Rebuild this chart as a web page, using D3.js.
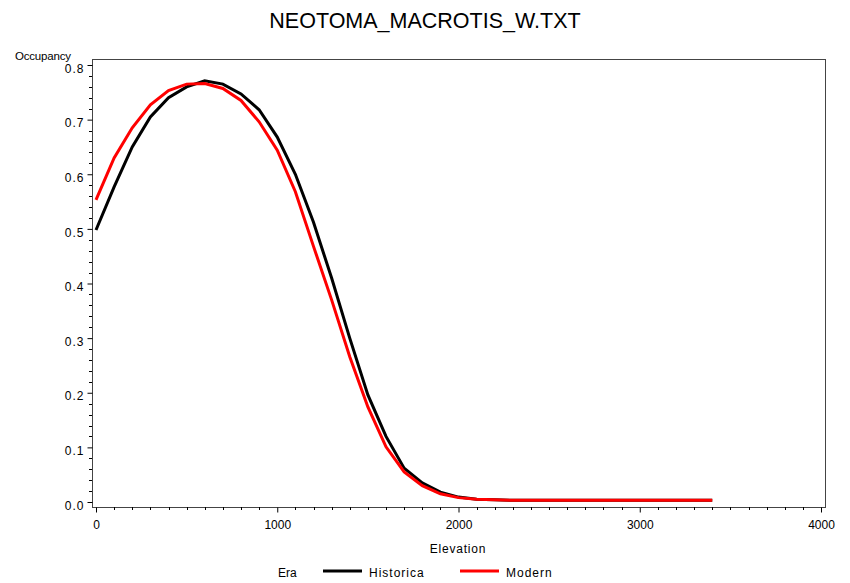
<!DOCTYPE html>
<html><head><meta charset="utf-8">
<script src="https://cdn.jsdelivr.net/npm/d3@7/dist/d3.min.js"></script>
<style>body{margin:0;background:#fff}svg{display:block}text{font-family:"Liberation Sans",Arial,sans-serif}</style>
</head><body><svg id="c" width="850" height="583"></svg>
<script>
const elevation = [0,100,200,300,400,500,600,700,800,900,1000,1100,1200,1300,1400,1500,1600,1700,1800,1900,2000,2100,2200,2300,2400,2500,2600,2700,2800,2900,3000,3100,3200,3300,3400];
const historical = [0.498,0.577,0.650,0.705,0.740,0.760,0.771,0.765,0.747,0.718,0.668,0.600,0.512,0.410,0.300,0.196,0.120,0.062,0.035,0.018,0.009,0.005,0.004,0.003,0.003,0.003,0.003,0.003,0.003,0.003,0.003,0.003,0.003,0.003,0.003];
const modern = [0.553,0.630,0.685,0.727,0.753,0.765,0.766,0.757,0.735,0.696,0.644,0.568,0.468,0.370,0.266,0.174,0.101,0.055,0.030,0.015,0.008,0.005,0.004,0.003,0.003,0.003,0.003,0.003,0.003,0.003,0.003,0.003,0.003,0.003,0.003];
const yTicks = [0.0,0.1,0.2,0.3,0.4,0.5,0.6,0.7,0.8];
const xTicks = [0,1000,2000,3000,4000];
const seriesNames = ["Historica","Modern"];
const seriesColors = ["#000000","#ff0000"];

const svg = d3.select("#c");
const frame = {l:92, r:825, t:59, b:507};
const x = d3.scaleLinear().domain([0,4000]).range([96,821]);
const y = d3.scaleLinear().domain([0,0.8]).range([502,65]);

// frame
svg.append("rect").attr("x",frame.l+0.5).attr("y",frame.t+0.5)
  .attr("width",frame.r-frame.l).attr("height",frame.b-frame.t)
  .attr("fill","none").attr("stroke","#444").attr("stroke-width",1);

// y axis
const yAxis = d3.axisLeft(y).tickValues(yTicks).tickFormat(d3.format(".1f")).tickSize(5).tickPadding(3);
const gy = svg.append("g").attr("transform",`translate(${frame.l+0.5},0)`).call(yAxis);
gy.select(".domain").remove();
gy.selectAll("text").attr("font-size",12).attr("fill","#000").attr("dy","0.6em").attr("letter-spacing","1");
const yMinor = d3.range(0,0.8001,0.02).filter(v=>Math.abs(v*10-Math.round(v*10))>1e-6);
svg.append("g").selectAll("line").data(yMinor).join("line")
  .attr("x1",frame.l-3).attr("x2",frame.l).attr("y1",d=>Math.round(y(d))+0.5).attr("y2",d=>Math.round(y(d))+0.5)
  .attr("stroke","#000");

// x axis
const xAxis = d3.axisBottom(x).tickValues(xTicks).tickFormat(d3.format("d")).tickSize(5).tickPadding(8);
const gx = svg.append("g").attr("transform",`translate(0,${frame.b+0.5})`).call(xAxis);
gx.select(".domain").remove();
gx.selectAll("text").attr("font-size",12).attr("fill","#000");
const xMinor = d3.range(0,4001,100).filter(v=>v%1000!==0);
svg.append("g").selectAll("line").data(xMinor).join("line")
  .attr("y1",frame.b).attr("y2",frame.b+3).attr("x1",d=>Math.round(x(d))+0.5).attr("x2",d=>Math.round(x(d))+0.5)
  .attr("stroke","#000");

// lines
const line = d3.line().x((d,i)=>x(elevation[i])).y(d=>y(d));
[historical, modern].forEach((s,i)=>{
  svg.append("path").datum(s).attr("d",line).attr("fill","none")
    .attr("stroke",seriesColors[i]).attr("stroke-width",3).attr("stroke-linejoin","miter");
});

// titles
svg.append("text").attr("x",425).attr("y",28).attr("text-anchor","middle").attr("font-size",21.5).text("NEOTOMA_MACROTIS_W.TXT");
svg.append("text").attr("x",15).attr("y",60).attr("font-size",11.5).attr("letter-spacing","-0.2").text("Occupancy");
svg.append("text").attr("x",458).attr("y",553).attr("text-anchor","middle").attr("font-size",12).attr("letter-spacing","0.8").text("Elevation");

// legend
const leg = svg.append("g");
leg.append("text").attr("x",278).attr("y",577).attr("font-size",12).text("Era");
const legX = [323,460];
seriesNames.forEach((n,i)=>{
  leg.append("line").attr("x1",legX[i]).attr("x2",legX[i]+39).attr("y1",571).attr("y2",571)
    .attr("stroke",seriesColors[i]).attr("stroke-width",3);
  leg.append("text").attr("x",legX[i]+46).attr("y",577).attr("font-size",12).attr("letter-spacing","1").text(n);
});
</script></body></html>
